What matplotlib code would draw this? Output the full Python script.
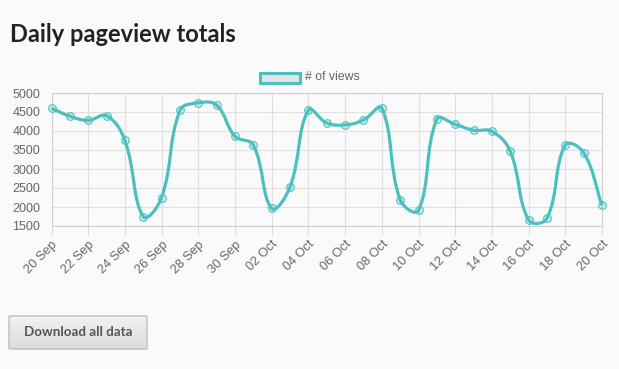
import numpy as np
import matplotlib
matplotlib.use("Agg")
import matplotlib.pyplot as plt
from matplotlib.path import Path
from matplotlib.patches import PathPatch, Rectangle, FancyBboxPatch
from matplotlib.colors import LinearSegmentedColormap

# dados (20 Sep .. 20 Oct)
dias = ["20 Sep", "21 Sep", "22 Sep", "23 Sep", "24 Sep", "25 Sep", "26 Sep", "27 Sep",
        "28 Sep", "29 Sep", "30 Sep", "01 Oct", "02 Oct", "03 Oct", "04 Oct", "05 Oct",
        "06 Oct", "07 Oct", "08 Oct", "09 Oct", "10 Oct", "11 Oct", "12 Oct", "13 Oct",
        "14 Oct", "15 Oct", "16 Oct", "17 Oct", "18 Oct", "19 Oct", "20 Oct"]
views = [4600, 4390, 4280, 4400, 3750, 1750, 2250, 4540, 4740, 4680, 3860, 3630,
         1965, 2530, 4550, 4210, 4160, 4290, 4600, 2190, 1910, 4310, 4175, 4020,
         3990, 3465, 1660, 1700, 3630, 3430, 2045]
y_ticks = [1500, 2000, 2500, 3000, 3500, 4000, 4500, 5000]

TEAL = "#4bc0c0"
BG = "#fafafa"
W, H = 619, 369

fig = plt.figure(figsize=(W / 100, H / 100), dpi=100)
fig.patch.set_facecolor(BG)

def px_box(x0, y0, x1, y1):
    # caixa em pixels (origem no topo) -> fracao da figura
    return [x0 / W, 1 - y1 / H, (x1 - x0) / W, (y1 - y0) / H]

ax = fig.add_axes(px_box(51.5, 93, 602, 226))
ax.set_facecolor(BG)
x = np.arange(len(views))
ax.set_xlim(0, len(views) - 1)
ax.set_ylim(1500, 5000)

# curva tipo Chart.js (tension 0.4), calculada em pixels
pts = ax.transData.transform(np.column_stack([x, views]))
t = 0.4
ctrl_prev = np.zeros_like(pts)
ctrl_next = np.zeros_like(pts)
for i in range(len(pts)):
    prev = pts[i - 1] if i > 0 else pts[i]
    cur = pts[i]
    nxt = pts[i + 1] if i < len(pts) - 1 else pts[i]
    d01 = np.hypot(*(cur - prev))
    d12 = np.hypot(*(nxt - cur))
    s = d01 + d12
    s01 = d01 / s if s else 0
    s12 = d12 / s if s else 0
    ctrl_prev[i] = cur - t * s01 * (nxt - prev)
    ctrl_next[i] = cur + t * s12 * (nxt - prev)
bb = ax.bbox
for c in (ctrl_prev, ctrl_next):
    c[:, 1] = np.clip(c[:, 1], bb.y0, bb.y1)

verts = [pts[0]]
codes = [Path.MOVETO]
for i in range(1, len(pts)):
    verts += [ctrl_next[i - 1], ctrl_prev[i], pts[i]]
    codes += [Path.CURVE4] * 3
inv = ax.transData.inverted()
verts = inv.transform(np.array(verts))
ax.add_patch(PathPatch(Path(verts, codes), facecolor="none", edgecolor=TEAL,
                       lw=2.3, zorder=3, clip_on=False))
ax.plot(x, views, ls="none", marker="o", ms=5.5,
        mfc=(75 / 255, 192 / 255, 192 / 255, 0.2), mec=TEAL, mew=0.8, zorder=4,
        clip_on=False)

# eixos e grade
ax.set_xticks(x[::2])
ax.set_xticklabels(dias[::2], rotation=45, ha="right", va="top",
                   rotation_mode="anchor", fontsize=9.2, color="#666666",
                   fontfamily="Liberation Sans")
ax.set_yticks(y_ticks)
ax.set_yticklabels([str(v) for v in y_ticks], fontsize=9, color="#666666",
                   fontfamily="Liberation Sans")
ax.tick_params(axis="x", length=6.5, width=0.8, color="#dcdcdc", pad=2.5)
ax.tick_params(axis="y", length=0, pad=8)
ax.grid(True, color="#e0e0e0", lw=0.8)
ax.set_axisbelow(True)
for s in ax.spines.values():
    s.set_color("#d0d0d0")
    s.set_linewidth(0.8)

# legenda no topo
fig.patches.append(Rectangle((259.5 / W, 1 - 83 / H), 40 / W, 10 / H,
                             transform=fig.transFigure, facecolor="#e4e4e4",
                             edgecolor=TEAL, lw=2.2))
fig.text(305 / W, 1 - 76.5 / H, "# of views", fontsize=8.8, color="#666666",
         va="center", ha="left", fontfamily="Liberation Sans")

# titulo
fig.text(10 / W, 1 - 35 / H, "Daily pageview totals", fontsize=17, fontweight="bold",
         color="#222222", va="center", ha="left", fontfamily="Lato")

# botao "Download all data"
bx = fig.add_axes(px_box(9, 316, 147, 349))
bx.set_axis_off()
grad = LinearSegmentedColormap.from_list("btn", ["#dcdcdc", "#f2f2f2"])
bx.imshow(np.linspace(0, 1, 50).reshape(-1, 1), aspect="auto", cmap=grad,
          extent=[0, 1, 0, 1], origin="lower")
bx.set_xlim(0, 1)
bx.set_ylim(0, 1)
bx.add_patch(FancyBboxPatch((0, 0), 1, 1, boxstyle="round,pad=0,rounding_size=0.02",
                            facecolor="none", edgecolor="#b8b8b8", lw=0.9,
                            transform=bx.transAxes, clip_on=False))
bx.text(0.5, 0.5, "Download all data", fontsize=9.6, fontweight="bold",
        color="#555555", ha="center", va="center", fontfamily="Lato")

fig.savefig("out.png", dpi=100, facecolor=BG)
